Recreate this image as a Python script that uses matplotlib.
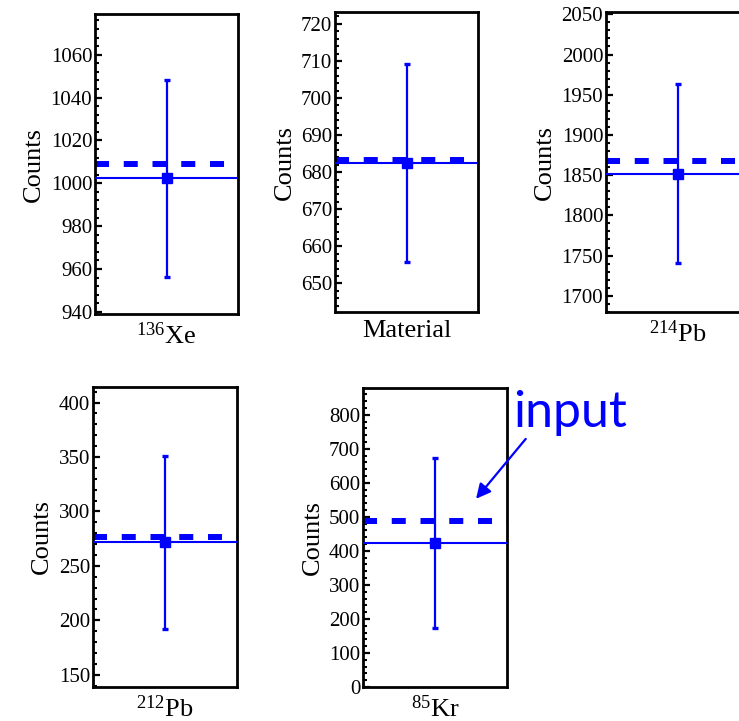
import matplotlib
matplotlib.use("Agg")
import matplotlib.pyplot as plt
from matplotlib.ticker import MultipleLocator, AutoMinorLocator

plt.rcParams['font.family'] = ['Liberation Serif', 'DejaVu Serif']
plt.rcParams['mathtext.fontset'] = 'custom'
plt.rcParams['mathtext.rm'] = 'Liberation Serif'
plt.rcParams['mathtext.it'] = 'Liberation Serif:italic'
plt.rcParams['lines.scale_dashes'] = False

# ---- data ----
categories = [r'$^{\mathrm{136}}$Xe', 'Material', r'$^{\mathrm{214}}$Pb',
              r'$^{\mathrm{212}}$Pb', r'$^{\mathrm{85}}$Kr']
fit_values = [1002.3, 682.5, 1852.0, 271.5, 423.0]
fit_errors = [46.0, 26.6, 111.5, 79.5, 249.3]
input_values = [1009.2, 683.2, 1867.0, 276.6, 488.0]
y_limits = [(939.0, 1079.0), (642.3, 723.2), (1679.8, 2052.9), (138.7, 414.3), (0.0, 878.6)]
major_steps = [20, 10, 50, 50, 100]

W, H = 739, 721
fig = plt.figure(figsize=(W / 100, H / 100), dpi=100)

# axes boxes in pixels: left, right, top, bottom
boxes = [(95, 238, 14, 314), (335, 478, 12, 312), (606, 749, 12, 312),
         (93, 237, 387, 687), (363, 507, 388, 687)]

blue = (0, 0, 1)
axes = []
for i, (l, r, t, b) in enumerate(boxes):
    ax = fig.add_axes([l / W, 1 - b / H, (r - l) / W, (b - t) / H])
    axes.append(ax)
    ax.set_xlim(0, 2)
    ax.set_ylim(*y_limits[i])
    ax.axhline(input_values[i], color=blue, lw=4.3, linestyle=(0, (10.1, 10.6)),
               dash_capstyle='butt', zorder=2)
    ax.axhline(fit_values[i], color=blue, lw=1.5, zorder=3)
    ax.errorbar([1], [fit_values[i]], yerr=[fit_errors[i]], fmt='s', color=blue,
                ms=7, elinewidth=1.6, capsize=2.0, capthick=2.4, zorder=4)
    ax.set_xticks([])
    ax.yaxis.set_major_locator(MultipleLocator(major_steps[i]))
    ax.yaxis.set_minor_locator(AutoMinorLocator(5))
    ax.tick_params(axis='y', which='both', direction='in', left=True, right=False,
                   labelsize=15, pad=2)
    ax.tick_params(axis='y', which='major', length=5, width=1.6)
    ax.tick_params(axis='y', which='minor', length=3, width=1.5)
    for sp in ax.spines.values():
        sp.set_linewidth(2.0)
    ax.set_ylabel('Counts', fontsize=19, labelpad=4)
    ax.set_xlabel(categories[i], fontsize=19, labelpad=6)

# annotation on the 85Kr panel
ax5 = axes[4]
trans = ax5.get_yaxis_transform()
ax5.annotate('', xy=(0.785, 553), xycoords=trans, xytext=(1.13, 729), textcoords=trans,
             arrowprops=dict(arrowstyle='-|>', color=blue, lw=1.6, mutation_scale=22,
                             shrinkA=0, shrinkB=0), annotation_clip=False)
ax5.text(1.04, 765, 'input', transform=trans, color=blue, fontsize=36,
         family=['Lato', 'DejaVu Sans'], ha='left', va='baseline', clip_on=False)

fig.savefig('out.png', dpi=100)
